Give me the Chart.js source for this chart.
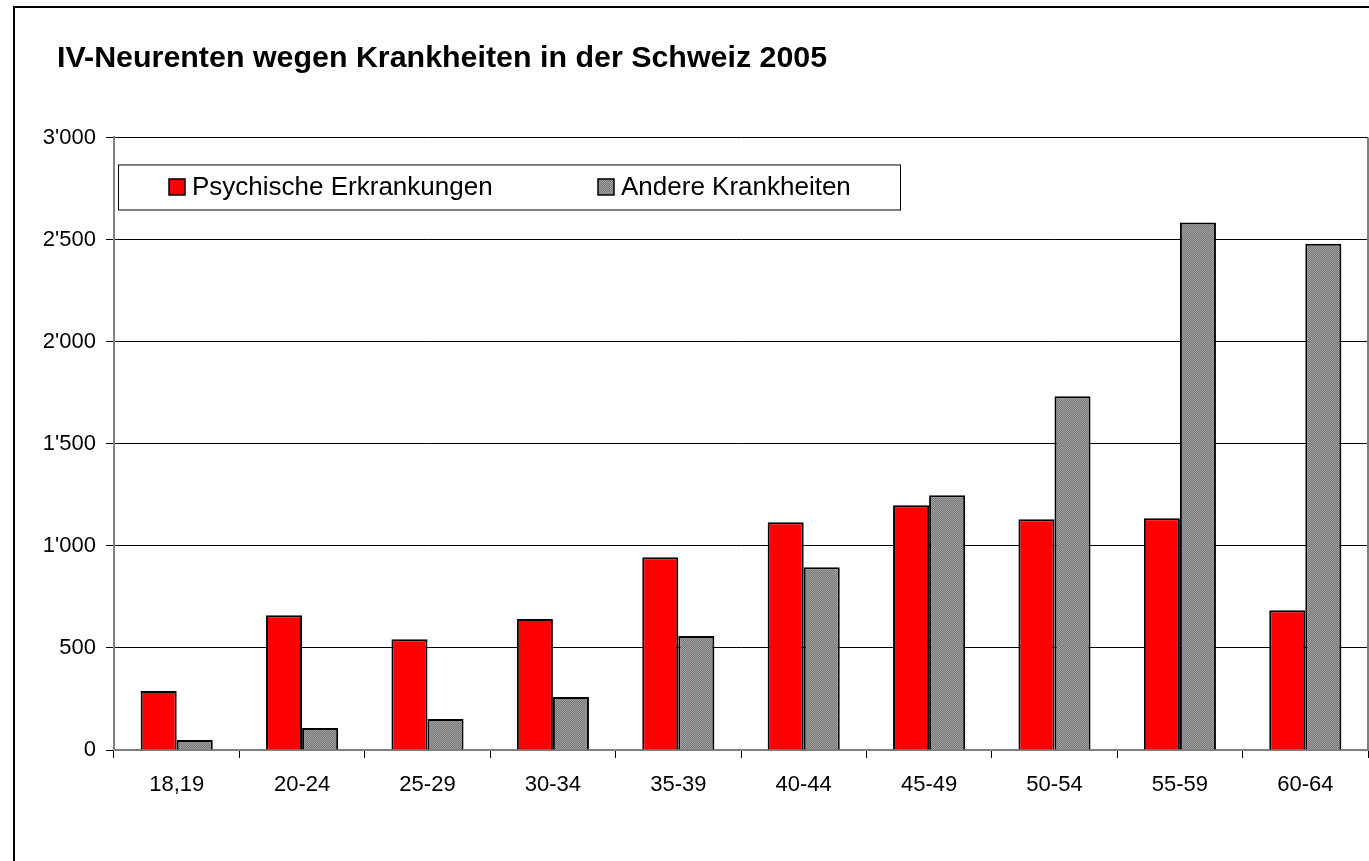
<!DOCTYPE html>
<html>
<head>
<meta charset="utf-8">
<title>IV-Neurenten wegen Krankheiten in der Schweiz 2005</title>
<script src="https://cdn.jsdelivr.net/npm/chart.js@4/dist/chart.umd.min.js"></script>
<style>
  html, body { margin: 0; padding: 0; background: #fff; }
  canvas { display: block; }
</style>
</head>
<body>
<canvas id="chart" width="1369" height="861"></canvas>
<script>
const FONT = '"Liberation Sans", Arial, sans-serif';

const categories = ['18,19', '20-24', '25-29', '30-34', '35-39', '40-44', '45-49', '50-54', '55-59', '60-64'];
const psychisch = [289, 660, 543, 641, 944, 1115, 1199, 1130, 1135, 685];
const andere = [49, 108, 152, 259, 558, 895, 1248, 1732, 2583, 2480];
const yTicks = [0, 500, 1000, 1500, 2000, 2500, 3000];

// grey dither fill like the old Excel pattern
function greyPattern() {
  const c = document.createElement('canvas');
  c.width = 2;
  c.height = 2;
  const g = c.getContext('2d');
  g.fillStyle = '#787878';
  g.fillRect(0, 0, 2, 2);
  g.fillStyle = '#a0a0a0';
  g.fillRect(0, 0, 1, 1);
  g.fillRect(1, 1, 1, 1);
  return g.createPattern(c, 'repeat');
}

function formatNumber(v) {
  return String(v).replace(/\B(?=(\d{3})+(?!\d))/g, "'");
}

const framePlugin = {
  id: 'frame',
  afterLayout(chart) {
    // title starts further right than the axis labels
    chart.titleBlock.left = 57;
  },
  beforeDraw(chart) {
    const ctx = chart.ctx;
    ctx.save();
    ctx.fillStyle = '#fff';
    ctx.fillRect(0, 0, chart.width, chart.height);
    ctx.strokeStyle = '#000';
    ctx.lineWidth = 2;
    ctx.strokeRect(14, 7, chart.width + 50, chart.height + 50);
    ctx.restore();
  },
  afterDraw(chart) {
    const ctx = chart.ctx;
    const area = chart.chartArea;
    ctx.save();
    ctx.strokeStyle = '#808080';
    ctx.lineWidth = 2;
    ctx.beginPath();
    ctx.moveTo(area.right, area.top);
    ctx.lineTo(area.right, area.bottom);
    ctx.stroke();
    ctx.restore();
  }
};

// legend box inside the plot, drawn like the original
const boxLegend = {
  id: 'boxLegend',
  afterDraw(chart) {
    const ctx = chart.ctx;
    const area = chart.chartArea;
    const left = area.left + 4, top = area.top + 27, width = 782, height = 45;
    ctx.save();
    ctx.fillStyle = '#fff';
    ctx.fillRect(left, top, width, height);
    ctx.strokeStyle = '#000';
    ctx.lineWidth = 1;
    ctx.strokeRect(left + 0.5, top + 0.5, width, height);
    const xs = [left + 51, left + 480];
    ctx.font = '26px ' + FONT;
    ctx.textBaseline = 'middle';
    chart.data.datasets.forEach((ds, i) => {
      const cy = top + height / 2;
      ctx.fillStyle = ds.backgroundColor;
      ctx.fillRect(xs[i], cy - 8, 16, 16);
      ctx.strokeStyle = '#000';
      ctx.lineWidth = 1.5;
      ctx.strokeRect(xs[i], cy - 8, 16, 16);
      ctx.fillStyle = '#000';
      ctx.fillText(ds.label, xs[i] + 23, cy + 1);
    });
    ctx.restore();
  }
};

new Chart(document.getElementById('chart'), {
  type: 'bar',
  data: {
    labels: categories,
    datasets: [
      {
        label: 'Psychische Erkrankungen',
        data: psychisch,
        backgroundColor: '#ff0000',
        borderColor: '#000',
        borderWidth: 2
      },
      {
        label: 'Andere Krankheiten',
        data: andere,
        backgroundColor: greyPattern(),
        borderColor: '#000',
        borderWidth: 2
      }
    ]
  },
  options: {
    responsive: false,
    animation: false,
    categoryPercentage: 0.575,
    barPercentage: 1,
    layout: { padding: { left: 20, right: 1, top: 0, bottom: 0 } },
    plugins: {
      legend: { display: false },
      tooltip: { enabled: false },
      title: {
        display: true,
        text: 'IV-Neurenten wegen Krankheiten in der Schweiz 2005',
        align: 'start',
        color: '#000',
        font: { family: FONT, size: 30.4, weight: 'bold', lineHeight: 1.2 },
        padding: { top: 40, bottom: 61 }
      }
    },
    scales: {
      x: {
        afterFit(scale) { scale.height = 111; },
        grid: { drawOnChartArea: false, drawTicks: true, tickLength: 8, color: '#000', offset: true },
        border: { display: true, color: '#808080', width: 2 },
        ticks: { color: '#000', padding: 14, font: { family: FONT, size: 22 }, maxRotation: 0 }
      },
      y: {
        min: 0,
        max: 3000,
        afterFit(scale) { scale.width = 94; },
        afterBuildTicks(scale) { scale.ticks = yTicks.map(v => ({ value: v })); },
        grid: { color: '#000', lineWidth: 1, tickLength: 8 },
        border: { display: true, color: '#808080', width: 2 },
        ticks: {
          color: '#000',
          padding: 10,
          font: { family: FONT, size: 22 },
          callback: v => formatNumber(v)
        }
      }
    }
  },
  plugins: [framePlugin, boxLegend]
});
</script>
</body>
</html>
